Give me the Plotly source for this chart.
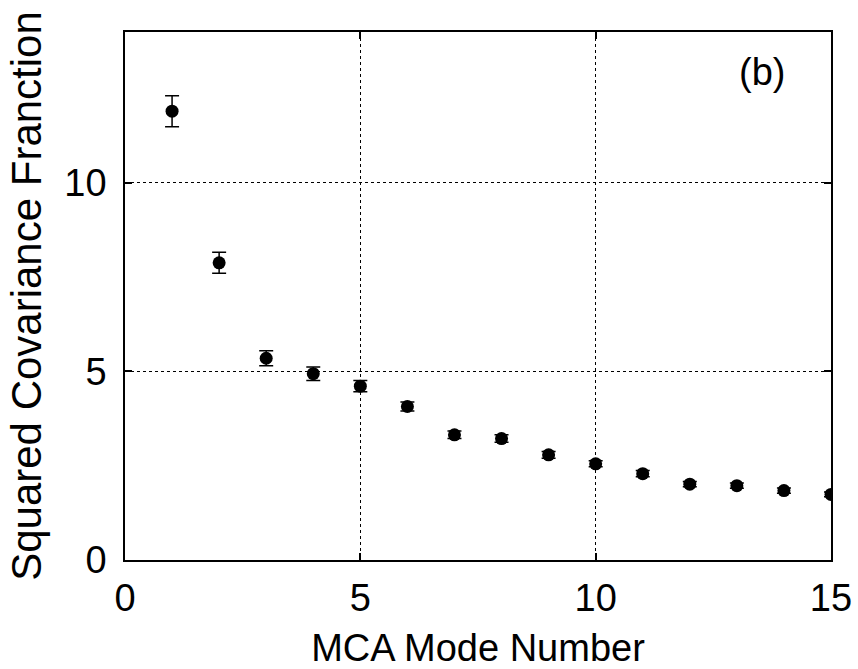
import plotly.graph_objects as go

mode_number = list(range(1, 16))
cov_fraction = [11.90, 7.88, 5.35, 4.94, 4.61, 4.07, 3.32, 3.22, 2.79, 2.55, 2.29, 2.01, 1.97, 1.84, 1.74]
cov_error = [0.41, 0.28, 0.20, 0.18, 0.15, 0.12, 0.10, 0.10, 0.09, 0.08, 0.08, 0.07, 0.07, 0.07, 0.06]
x_ticks = [0, 5, 10, 15]
y_ticks = [0, 5, 10]

FONT = "Liberation Sans, Arial, sans-serif"
FS = 38

fig = go.Figure()
fig.add_trace(go.Scatter(
    x=mode_number, y=cov_fraction, mode="markers",
    marker=dict(color="black", size=13, symbol="circle"),
    error_y=dict(type="data", array=cov_error, visible=True,
                 color="black", thickness=1.5, width=7),
    showlegend=False,
))

axis_common = dict(
    showline=True, linecolor="black", linewidth=1.5, mirror="ticks",
    ticks="inside", ticklen=7, tickwidth=1.5, tickcolor="black",
    showgrid=True, gridcolor="black", gridwidth=1, griddash="dot",
    zeroline=False, automargin=False,
    tickfont=dict(family=FONT, size=FS, color="black"),
)

fig.update_xaxes(range=[0, 15], tickvals=x_ticks, ticktext=[str(v) for v in x_ticks],
                 ticklabelstandoff=4,
                 title=dict(text="MCA Mode Number", font=dict(family=FONT, size=FS, color="black"),
                            standoff=25),
                 **axis_common)
fig.update_yaxes(range=[0, 14], tickvals=y_ticks, ticktext=[str(v) for v in y_ticks],
                 ticklabelstandoff=9,
                 title=dict(text="Squared Covariance Franction", font=dict(family=FONT, size=42, color="black"),
                            standoff=10),
                 **axis_common)

fig.add_annotation(text="(b)", x=0.902, y=0.925, xref="paper", yref="paper",
                   showarrow=False, font=dict(family=FONT, size=38, color="black"),
                   xanchor="center", yanchor="middle")

fig.update_layout(
    width=858, height=669,
    margin=dict(l=125, r=27, t=32, b=109),
    plot_bgcolor="white", paper_bgcolor="white",
)

fig.write_html("out.html")
